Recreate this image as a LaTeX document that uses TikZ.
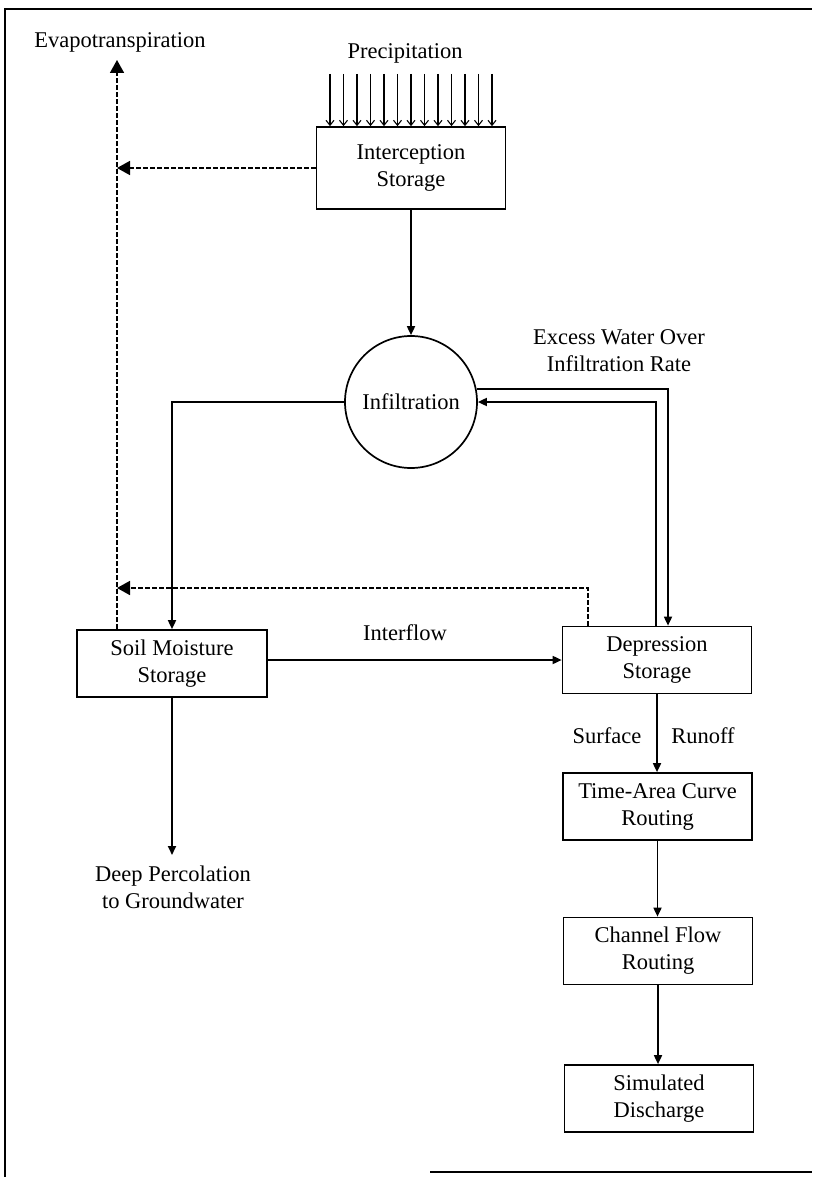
\documentclass[tikz,border=0pt]{standalone}
\usepackage{fontspec}
\setmainfont{Liberation Serif}
\usetikzlibrary{arrows.meta}
\begin{document}
\begin{tikzpicture}[x=1pt,y=-1pt, line width=1.7pt,
  box/.style={draw, minimum width=189pt, minimum height=67pt, align=center, inner sep=0pt},
  lbl/.style={align=center, inner sep=0pt},
  sarr/.style={-{Triangle[length=9pt,width=8pt]}},
  barr/.style={-{Triangle[length=13pt,width=14pt]}},
  dsh/.style={dash pattern=on 5pt off 2pt},
  font=\fontsize{22.5}{27}\selectfont]
\useasboundingbox (0,0) rectangle (812,1177);
% frame
\draw (5,1177) -- (5,9) -- (812,9);
\draw (430,1172) -- (812,1172);
% nodes
\node[lbl] (evap) at (120,42) {Evapotranspiration};
\node[lbl] (prec) at (405,53) {Precipitation};
\node[box, minimum height=82pt] (int) at (411,168) {Interception\\Storage};
\node[draw, circle, minimum size=132pt, inner sep=0pt] (inf) at (411,402) {Infiltration};
\node[lbl] (exc) at (619,351) {Excess Water Over\\Infiltration Rate};
\node[box, minimum width=190pt] (soil) at (172,663.5) {Soil Moisture\\Storage};
\node[box] (dep) at (657,660) {Depression\\Storage};
\node[lbl] (intf) at (405,633) {Interflow};
\node[lbl] (surf) at (607,736) {Surface};
\node[lbl] (run) at (703,736) {Runoff};
\node[box] (ta) at (657.5,806.5) {Time-Area Curve\\Routing};
\node[box] (ch) at (658,951) {Channel Flow\\Routing};
\node[box] (sim) at (659,1098.5) {Simulated\\Discharge};
\node[lbl] (deep) at (173,887.5) {Deep Percolation\\to Groundwater};
% precipitation arrows
\foreach \i in {0,...,12} {
  \coordinate (p\i) at (330+13.5*\i,74);
  \draw[line width=1.1pt, -{Straight Barb[length=5pt,width=8pt]}] (p\i) -- (p\i |- int.north);
}
% evapotranspiration
\coordinate (evtip) at (117,60);
\draw[dsh, barr] (soil.north -| evtip) -- (evtip);
\draw[dsh, barr] (int.west) -- (int.west -| evtip);
% interception to infiltration
\draw[sarr] (int.south) -- (inf.north);
% excess water loop
\coordinate (xo) at (668,0);
\coordinate (xi) at (656,0);
\draw[sarr] (inf.11.4) -| (dep.north -| xo);
\draw[sarr] (dep.north -| xi) |- (inf.east);
% infiltration to soil moisture
\draw[sarr] (inf.west) -| (soil.north);
% depression evaporation
\coordinate (xd) at (588,0);
\coordinate (yd) at (0,588);
\draw[dsh, barr] (dep.north -| xd) |- (yd -| evtip);
% interflow
\draw[sarr] (soil.east |- dep.west) -- (dep.west);
% runoff chain
\draw[sarr] (dep.south) -- (dep.south |- ta.north);
\draw[sarr] (ta.south) -- (ta.south |- ch.north);
\draw[sarr] (ch.south) -- (ch.south |- sim.north);
% deep percolation
\coordinate (dp) at (172,855);
\draw[sarr] (soil.south) -- (soil.south |- dp);
\end{tikzpicture}
\end{document}
